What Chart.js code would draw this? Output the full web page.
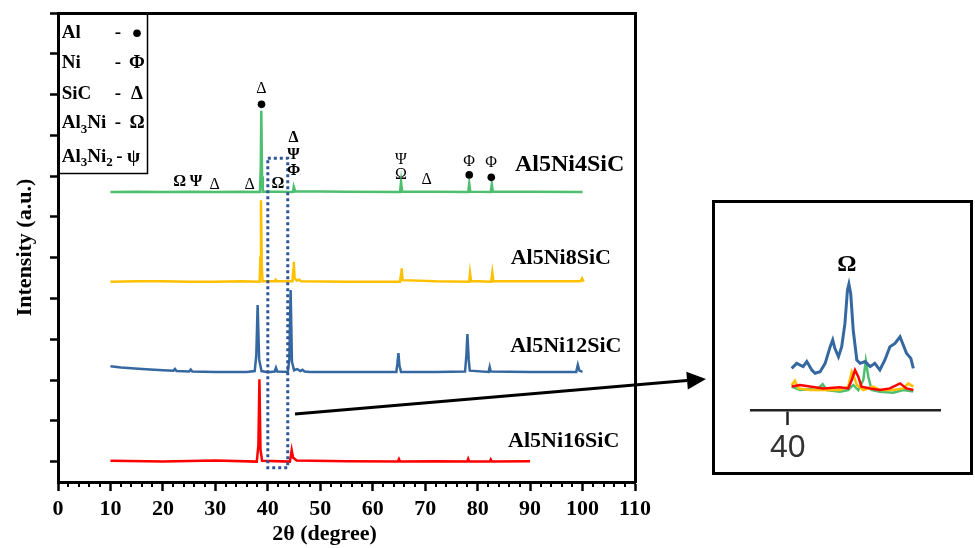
<!DOCTYPE html>
<html>
<head>
<meta charset="utf-8">
<script src="https://cdn.jsdelivr.net/npm/chart.js@4/dist/chart.umd.min.js"></script>
<style>
  html, body { margin: 0; padding: 0; background: #fff; }
  #wrap { position: relative; width: 975px; height: 548px; overflow: hidden; background: #fff; }
  #main { position: absolute; left: 0; top: 0; }
  #insetBox { position: absolute; left: 712px; top: 200px; width: 261px; height: 275px;
              border: 3px solid #000; box-sizing: border-box; background: #fff; }
  #inset { position: absolute; left: 0; top: 0; }
</style>
</head>
<body>
<div id="wrap">
  <canvas id="main" width="975" height="548"></canvas>
  <div id="insetBox"><canvas id="inset" width="255" height="269"></canvas></div>
</div>
<script>
// ---------------- DATA ----------------
const seriesNames = ['Al5Ni4SiC', 'Al5Ni8SiC', 'Al5Ni12SiC', 'Al5Ni16SiC'];
const xTickValues = [0, 10, 20, 30, 40, 50, 60, 70, 80, 90, 100, 110];
const yTickValues = [0, 1, 2, 3, 4, 5, 6, 7, 8, 9, 10, 11];

// Al5Ni4SiC (green)
const ni4Theta = [10, 15, 20, 25, 30, 35, 38.5, 38.65, 38.76, 38.9, 39.05, 42, 44.8, 44.95, 45.2, 55, 65.2, 65.4, 65.6, 72, 78.2, 78.4, 78.6, 82.5, 82.7, 82.9, 90, 100];
const ni4Int   = [6.61, 6.62, 6.61, 6.62, 6.61, 6.62, 6.61, 7.2, 8.6, 7.0, 6.62, 6.62, 6.61, 6.74, 6.63, 6.62, 6.61, 6.86, 6.62, 6.62, 6.61, 6.82, 6.62, 6.61, 6.80, 6.62, 6.62, 6.61];

// Al5Ni8SiC (yellow)
const ni8Theta = [10, 15, 20, 25, 30, 35, 38.45, 38.58, 38.7, 38.85, 39.0, 41.3, 41.5, 41.7, 44.7, 44.85, 44.95, 45.1, 45.5, 46.0, 46.3, 55, 65.2, 65.4, 65.5, 65.7, 72, 78.4, 78.55, 78.75, 82.6, 82.8, 83.0, 90, 99.6, 99.9, 100.2];
const ni8Int   = [4.41, 4.42, 4.42, 4.41, 4.41, 4.42, 4.41, 5.0, 6.41, 4.8, 4.42, 4.42, 4.46, 4.42, 4.42, 4.7, 4.9, 4.5, 4.44, 4.46, 4.42, 4.41, 4.41, 4.6, 4.74, 4.45, 4.42, 4.41, 4.62, 4.43, 4.41, 4.63, 4.43, 4.42, 4.42, 4.49, 4.41];

// Al5Ni12SiC (blue)
const ni12Theta = [10, 12, 16, 20, 22, 22.3, 22.6, 25, 25.3, 25.6, 30, 36, 37.5, 37.8, 38.06, 38.35, 38.8, 40, 41.3, 41.55, 41.8, 43.8, 44.1, 44.35, 44.6, 45.0, 45.6, 46.2, 46.6, 47.0, 48, 55, 64.5, 64.7, 64.9, 65.1, 65.4, 72, 77.6, 77.85, 78.05, 78.3, 78.5, 82.1, 82.3, 82.5, 90, 98.8, 99.1, 99.4, 100];
const ni12Int   = [2.34, 2.31, 2.27, 2.24, 2.23, 2.27, 2.22, 2.21, 2.26, 2.21, 2.2, 2.2, 2.22, 2.6, 3.84, 2.5, 2.22, 2.19, 2.21, 2.3, 2.21, 2.2, 2.5, 4.21, 2.45, 2.24, 2.27, 2.22, 2.25, 2.21, 2.2, 2.2, 2.2, 2.4, 2.66, 2.35, 2.2, 2.2, 2.21, 2.6, 3.13, 2.5, 2.23, 2.2, 2.32, 2.21, 2.2, 2.2, 2.37, 2.23, 2.2];

// Al5Ni16SiC (red)
const ni16Theta = [10, 20, 30, 37.9, 38.2, 38.4, 38.6, 38.9, 44.2, 44.4, 44.55, 44.8, 45.5, 55, 64.8, 65.0, 65.2, 72, 78.0, 78.2, 78.4, 82.3, 82.5, 82.7, 90];
const ni16Int   = [0.02, 0.0, 0.03, 0.0, 0.4, 2.02, 0.3, 0.02, 0.0, 0.15, 0.28, 0.1, 0.03, 0.01, 0.0, 0.06, 0.0, 0.01, 0.0, 0.07, 0.0, 0.0, 0.05, 0.0, 0.01];

// Peak phase marks on the Al5Ni4SiC pattern: [2θ, symbol, level]
const peakMarks = [
  [38.76, 'Δ', 9.13], [38.8, '●', 8.76],
  [44.9, 'Δ', 7.95], [44.9, 'Ψ', 7.52], [44.9, 'Φ', 7.13],
  [23.2, 'Ω', 6.86], [26.3, 'Ψ', 6.86], [29.87, 'Δ', 6.78], [36.53, 'Δ', 6.78], [41.94, 'Ω', 6.82],
  [65.37, 'Ψ', 7.40], [65.37, 'Ω', 7.03], [70.3, 'Δ', 6.91],
  [78.38, 'Φ', 7.35], [78.4, '●', 7.03], [82.57, 'Φ', 7.33], [82.6, '●', 6.97]
];
const boldMarks = [2, 3, 4, 5, 6, 9];

// Legend of phases
const phaseNames = ['Al', 'Ni', 'SiC', 'Al3Ni', 'Al3Ni2'];
const phaseSymbols = ['●', 'Φ', 'Δ', 'Ω', 'ψ'];

// Zoomed inset (around 40-44°)
const insetTickValues = [40];
const insetBlueTheta = [40.11, 40.25, 40.43, 40.53, 40.67, 40.76, 40.90, 41.04, 41.18, 41.25, 41.31, 41.41, 41.50, 41.59, 41.66, 41.70, 41.75, 41.82, 41.92, 42.01, 42.15, 42.29, 42.42, 42.56, 42.70, 42.84, 42.98, 43.12, 43.21, 43.30, 43.42, 43.49];
const insetBlueInt   = [2.31, 2.59, 2.41, 2.69, 2.22, 2.04, 2.13, 2.59, 3.52, 3.89, 3.43, 2.96, 3.52, 4.81, 6.67, 7.0, 6.48, 4.44, 2.78, 2.59, 2.69, 2.41, 2.59, 2.22, 2.78, 3.52, 3.70, 4.07, 3.61, 3.15, 2.87, 2.31];
const insetRedTheta = [40.11, 40.34, 40.62, 40.99, 41.45, 41.68, 41.78, 41.87, 41.96, 42.05, 42.29, 42.56, 42.84, 43.12, 43.30, 43.49];
const insetRedInt   = [1.30, 1.39, 1.30, 1.20, 1.26, 1.20, 1.67, 2.22, 1.85, 1.30, 1.20, 1.11, 1.20, 1.48, 1.20, 1.11];
const insetYellowTheta = [40.11, 40.20, 40.30, 40.62, 40.99, 41.45, 41.68, 41.78, 41.84, 41.92, 42.10, 42.38, 42.56, 42.93, 43.21, 43.35, 43.49];
const insetYellowInt   = [1.39, 1.63, 1.20, 1.11, 1.11, 1.11, 1.30, 2.13, 1.85, 1.39, 1.11, 1.30, 1.11, 1.11, 1.20, 1.48, 1.30];
const insetGreenTheta = [40.11, 40.34, 40.62, 40.80, 40.97, 41.08, 41.45, 41.68, 41.82, 41.96, 42.10, 42.17, 42.24, 42.33, 42.56, 42.93, 43.21, 43.49];
const insetGreenInt   = [1.30, 1.11, 1.15, 1.11, 1.43, 1.11, 1.02, 1.11, 1.39, 1.11, 1.67, 2.74, 1.85, 1.11, 1.02, 0.96, 1.11, 1.02];

// ---------------- STYLE ----------------
const GREEN = '#4dbf6f', YELLOW = '#ffc000', BLUE = '#3568a0', RED = '#ff0000';
const SERIF = '"Liberation Serif", "Times New Roman", serif';

function pts(xs, ys) { return xs.map((x, i) => ({ x: x, y: ys[i] })); }
function ds(label, xs, ys, color, w) {
  return { label: label, data: pts(xs, ys), borderColor: color, backgroundColor: color,
           borderWidth: w, pointRadius: 0, tension: 0, fill: false };
}

const decorPlugin = {
  id: 'decor',
  afterDatasetsDraw(chart) {
    const ctx = chart.ctx, xs = chart.scales.x, ys = chart.scales.y;
    ctx.save();
    // dotted selection box
    ctx.strokeStyle = '#2f5597'; ctx.lineWidth = 3; ctx.setLineDash([3, 3]);
    const bx1 = xs.getPixelForValue(40.0), bx2 = xs.getPixelForValue(43.8);
    const by1 = ys.getPixelForValue(7.44), by2 = ys.getPixelForValue(-0.15);
    ctx.strokeRect(bx1, by1, bx2 - bx1, by2 - by1);
    ctx.setLineDash([]);

    // peak marks
    ctx.fillStyle = '#000'; ctx.textAlign = 'center'; ctx.textBaseline = 'middle';
    peakMarks.forEach((m, i) => {
      const px = xs.getPixelForValue(m[0]), py = ys.getPixelForValue(m[2]);
      if (m[1] === '●') {
        ctx.beginPath(); ctx.arc(px, py, 3.8, 0, Math.PI * 2); ctx.fill();
      } else {
        ctx.font = (boldMarks.includes(i) ? 'bold ' : '') + '16px ' + SERIF;
        ctx.fillText(m[1], px, py);
      }
    });

    // series labels
    ctx.textAlign = 'left';
    const labelPos = [[87.1, 7.27, 24], [86.3, 4.99, 22], [86.2, 2.82, 22], [85.8, 0.49, 22]];
    seriesNames.forEach((n, i) => {
      ctx.font = 'bold ' + labelPos[i][2] + 'px ' + SERIF;
      ctx.fillText(n, xs.getPixelForValue(labelPos[i][0]), ys.getPixelForValue(labelPos[i][1]));
    });

    // phase legend box
    const L = chart.chartArea.left, T = chart.chartArea.top;
    ctx.lineWidth = 1.5; ctx.strokeStyle = '#000';
    ctx.strokeRect(L, T, 89.5, 160.5);
    const rowsY = [33.3, 63.3, 94.3, 123.3, 156.7];
    const big = 'bold 19px ' + SERIF, sub = 'bold 13px ' + SERIF;
    phaseNames.forEach((name, i) => {
      let x = 61.7; const y = rowsY[i];
      ctx.textAlign = 'left';
      // render name with numeric subscripts
      for (const ch of name) {
        if (/[0-9]/.test(ch)) {
          ctx.font = sub; ctx.fillText(ch, x, y + 6); x += ctx.measureText(ch).width;
        } else {
          ctx.font = big; ctx.fillText(ch, x, y); x += ctx.measureText(ch).width;
        }
      }
      ctx.font = big; ctx.textAlign = 'center';
      const dashX = (i === 4) ? 119.5 : 118;
      ctx.fillText('-', dashX, y);
      const sx = (i === 4) ? 133.5 : 137;
      if (phaseSymbols[i] === '●') {
        ctx.beginPath(); ctx.arc(sx, y, 3.8, 0, Math.PI * 2); ctx.fill();
      } else {
        ctx.fillText(phaseSymbols[i], sx, y);
      }
    });
    ctx.restore();
  },
  afterDraw(chart) {
    const ctx = chart.ctx, xs = chart.scales.x;
    ctx.save();
    // minor ticks on the 2θ axis
    ctx.strokeStyle = '#000'; ctx.lineWidth = 2;
    const yb = chart.chartArea.bottom;
    for (let v = 2; v < 110; v += 2) {
      if (v % 10 === 0) continue;
      const px = Math.round(xs.getPixelForValue(v)) + 0.0;
      ctx.beginPath(); ctx.moveTo(px, yb); ctx.lineTo(px, yb + 5); ctx.stroke();
    }
    // arrow to inset
    const x0 = 295, y0 = 414, x1 = 706, y1 = 379;
    const ang = Math.atan2(y1 - y0, x1 - x0);
    const hl = 19, hw = 9;
    const bxp = x1 - hl * Math.cos(ang), byp = y1 - hl * Math.sin(ang);
    ctx.lineWidth = 3; ctx.strokeStyle = '#000'; ctx.fillStyle = '#000';
    ctx.beginPath(); ctx.moveTo(x0, y0); ctx.lineTo(bxp, byp); ctx.stroke();
    ctx.beginPath();
    ctx.moveTo(x1, y1);
    ctx.lineTo(bxp + hw * Math.sin(ang), byp - hw * Math.cos(ang));
    ctx.lineTo(bxp - hw * Math.sin(ang), byp + hw * Math.cos(ang));
    ctx.closePath(); ctx.fill();
    ctx.restore();
  }
};

new Chart(document.getElementById('main'), {
  type: 'line',
  data: {
    datasets: [
      ds(seriesNames[0], ni4Theta, ni4Int, GREEN, 2.5),
      ds(seriesNames[1], ni8Theta, ni8Int, YELLOW, 2.5),
      ds(seriesNames[2], ni12Theta, ni12Int, BLUE, 2.5),
      ds(seriesNames[3], ni16Theta, ni16Int, RED, 2.5)
    ]
  },
  options: {
    responsive: false, animation: false, devicePixelRatio: 1,
    layout: { padding: { left: 0, top: 13, right: 340, bottom: 0 } },
    plugins: { legend: { display: false }, tooltip: { enabled: false }, title: { display: false } },
    scales: {
      x: {
        type: 'linear', position: 'bottom', min: 0, max: 110,
        afterBuildTicks: (s) => { s.ticks = xTickValues.map(v => ({ value: v })); },
        ticks: { color: '#000', font: { family: SERIF, size: 22, weight: 'bold' }, padding: 5, maxRotation: 0, autoSkip: false },
        grid: { drawOnChartArea: false, drawTicks: true, tickLength: 9, tickWidth: 2.5, tickColor: '#000' },
        border: { display: true, color: '#000', width: 3 },
        title: { display: true, text: '2θ (degree)        ', color: '#000', font: { family: SERIF, size: 22, weight: 'bold' }, padding: { top: 0, bottom: 0 } },
        afterFit: (s) => { s.height = 66; }
      },
      xTop: {
        type: 'linear', position: 'top', min: 0, max: 110,
        ticks: { display: false }, grid: { display: false, drawTicks: false },
        border: { display: true, color: '#000', width: 3 },
        afterFit: (s) => { s.height = 0; }
      },
      y: {
        type: 'linear', position: 'left', min: -0.5, max: 11,
        afterBuildTicks: (s) => { s.ticks = yTickValues.map(v => ({ value: v })); },
        ticks: { callback: () => '', padding: 0 },
        grid: { drawOnChartArea: false, drawTicks: true, tickLength: 8, tickWidth: 2.5, tickColor: '#000' },
        border: { display: true, color: '#000', width: 3 },
        title: { display: true, text: 'Intensity (a.u.)', color: '#000', font: { family: SERIF, size: 22, weight: 'bold' }, padding: { top: 12, bottom: 0 } },
        afterFit: (s) => { s.width = 58; }
      },
      yRight: {
        type: 'linear', position: 'right', min: 0, max: 1,
        ticks: { display: false }, grid: { display: false, drawTicks: false },
        border: { display: true, color: '#000', width: 3 },
        afterFit: (s) => { s.width = 0; }
      }
    }
  },
  plugins: [decorPlugin]
});

const insetPlugin = {
  id: 'insetLabel',
  afterDatasetsDraw(chart) {
    const ctx = chart.ctx;
    ctx.save();
    ctx.fillStyle = '#000'; ctx.textAlign = 'center'; ctx.textBaseline = 'middle';
    ctx.font = 'bold 24px ' + SERIF;
    ctx.fillText('Ω', chart.scales.x.getPixelForValue(41.64), chart.scales.y.getPixelForValue(8.06));
    ctx.restore();
  }
};

new Chart(document.getElementById('inset'), {
  type: 'line',
  data: {
    datasets: [
      ds('Al5Ni12SiC', insetBlueTheta, insetBlueInt, BLUE, 3),
      ds('Al5Ni16SiC', insetRedTheta, insetRedInt, RED, 2.5),
      ds('Al5Ni8SiC', insetYellowTheta, insetYellowInt, YELLOW, 2.5),
      ds('Al5Ni4SiC', insetGreenTheta, insetGreenInt, GREEN, 2.5)
    ]
  },
  options: {
    responsive: false, animation: false, devicePixelRatio: 1,
    layout: { padding: { left: 36.7, right: 29.3, top: 27, bottom: 0 } },
    plugins: { legend: { display: false }, tooltip: { enabled: false } },
    scales: {
      x: {
        type: 'linear', position: 'bottom', min: 39, max: 44.25,
        afterBuildTicks: (s) => { s.ticks = insetTickValues.map(v => ({ value: v })); },
        ticks: { color: '#333', font: { family: '"Liberation Sans", Arial, sans-serif', size: 32 }, padding: 4, maxRotation: 0, autoSkip: false },
        grid: { drawOnChartArea: false, drawTicks: true, tickLength: 15, tickWidth: 2.5, tickColor: '#222' },
        border: { display: true, color: '#222', width: 2.5 },
        afterFit: (s) => { s.height = 62; }
      },
      y: { display: false, min: 0, max: 10 }
    }
  },
  plugins: [insetPlugin]
});
</script>
</body>
</html>
